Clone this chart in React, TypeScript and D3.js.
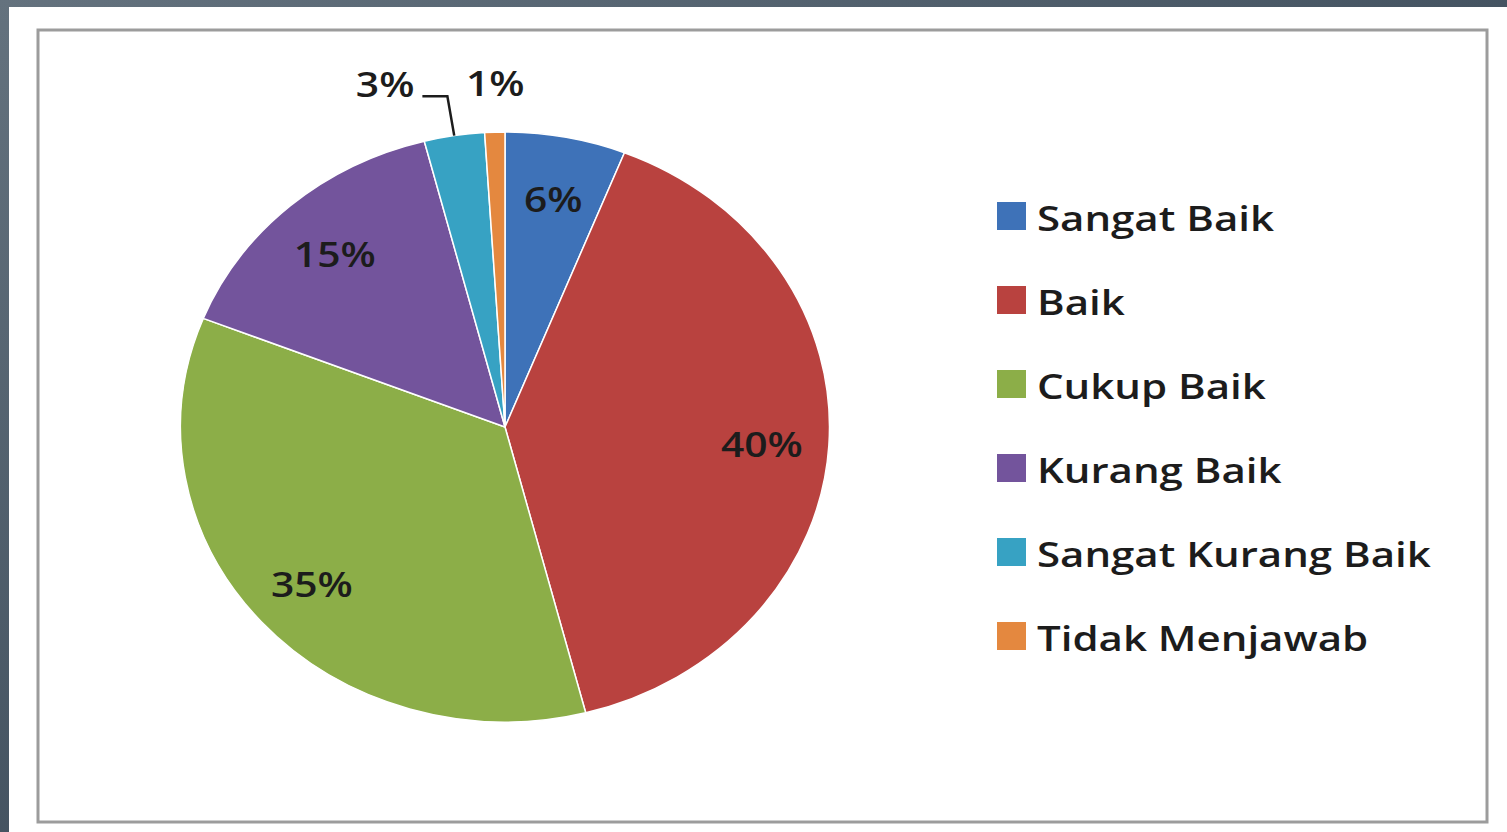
import React, { useEffect, useRef } from 'react';
import * as d3 from 'd3';

const categories = ['Sangat Baik', 'Baik', 'Cukup Baik', 'Kurang Baik', 'Sangat Kurang Baik', 'Tidak Menjawab'];
const values = [6, 40, 35, 15, 3, 1];
const colors = ['#3e72b8', '#b9423f', '#8cae48', '#73549c', '#37a2c3', '#e4883f'];
// labels of the thin slices sit outside the pie
const outsideLabel = [false, false, false, false, true, true];

const W = 1507;
const H = 832;

const App: React.FC = () => {
  const svgRef = useRef<SVGSVGElement>(null);

  useEffect(() => {
    if (!svgRef.current) return;
    const svg = d3.select(svgRef.current);
    svg.selectAll('*').remove();

    // frame background
    const defs = svg.append('defs');
    const grad = defs.append('linearGradient').attr('id', 'bg')
      .attr('x1', 0).attr('y1', 0).attr('x2', 1).attr('y2', 1);
    grad.append('stop').attr('offset', '0%').attr('stop-color', '#64727e');
    grad.append('stop').attr('offset', '60%').attr('stop-color', '#3f4e5c');
    grad.append('stop').attr('offset', '100%').attr('stop-color', '#2a3a4a');
    svg.append('rect').attr('width', W).attr('height', H).attr('fill', 'url(#bg)');
    svg.append('rect').attr('x', 9).attr('y', 7).attr('width', W - 9).attr('height', H - 7).attr('fill', '#ffffff');

    // chart border
    svg.append('rect')
      .attr('x', 38).attr('y', 30).attr('width', 1449).attr('height', 792)
      .attr('fill', 'none').attr('stroke', '#9c9c9c').attr('stroke-width', 3);

    const cx = 505;
    const cy = 427;
    const r = 295;
    const sx = 1.1; // the picture is stretched horizontally

    const pie = d3.pie<number>().sort(null).value((d) => d);
    const arcs = pie(values);
    const arc = d3.arc<d3.PieArcDatum<number>>().innerRadius(0).outerRadius(r);
    const labelArc = d3.arc<d3.PieArcDatum<number>>().innerRadius(234).outerRadius(234);

    const g = svg.append('g').attr('transform', `translate(${cx},${cy}) scale(${sx},1)`);
    g.selectAll('path')
      .data(arcs)
      .enter()
      .append('path')
      .attr('d', arc)
      .attr('fill', (_, i) => colors[i])
      .attr('stroke', '#ffffff')
      .attr('stroke-width', 1.5)
      .attr('vector-effect', 'non-scaling-stroke');

    const font = '"Open Sans", Lato, sans-serif';
    const ink = '#1c1c1c';
    const tsx = 1.2;
    const pt = (a: number, rad: number) => [cx + Math.sin(a) * rad * sx, cy - Math.cos(a) * rad];

    // text stretched the same way as the picture
    const addText = (x: number, y: number, txt: string, anchor: string, size: number) => {
      svg.append('g')
        .attr('transform', `translate(${x},${y}) scale(${tsx},1)`)
        .append('text')
        .attr('text-anchor', anchor).attr('dominant-baseline', 'central')
        .attr('font-family', font).attr('font-size', size).attr('font-weight', 600).attr('fill', ink)
        .text(txt);
    };

    arcs.forEach((d, i) => {
      if (!outsideLabel[i]) {
        const [lx, ly] = labelArc.centroid(d);
        addText(cx + lx * sx, cy + ly + 2, `${values[i]}%`, 'middle', 34);
      }
    });

    // outside labels: 1% directly above its slice, 3% pushed left with a leader
    const d1 = arcs[5];
    const m1 = (d1.startAngle + d1.endAngle) / 2;
    const [x1, y1] = pt(m1, r * 1.16);
    addText(x1 + 2, y1 - 2, `${values[5]}%`, 'middle', 34);

    const d3s = arcs[4];
    const m3 = (d3s.startAngle + d3s.endAngle) / 2;
    const [ex, ey] = pt(m3, r);
    const [bx, by] = pt(m3, r * 1.135);
    const hx = bx - 25;
    svg.append('path')
      .attr('d', `M${ex},${ey} L${bx},${by} L${hx},${by}`)
      .attr('fill', 'none').attr('stroke', ink).attr('stroke-width', 2.5);
    addText(hx - 8, by - 12, `${values[4]}%`, 'end', 34);

    // legend
    const rowStep = 84;
    categories.forEach((c, i) => {
      const y = 202 + i * rowStep;
      svg.append('rect').attr('x', 997).attr('y', y).attr('width', 29).attr('height', 28).attr('fill', colors[i]);
      addText(1037, y + 15, c, 'start', 35);
    });
  }, []);

  return (
    <svg
      ref={svgRef}
      width={W}
      height={H}
      style={{ position: 'absolute', left: 0, top: 0, display: 'block' }}
    />
  );
};

export default App;
